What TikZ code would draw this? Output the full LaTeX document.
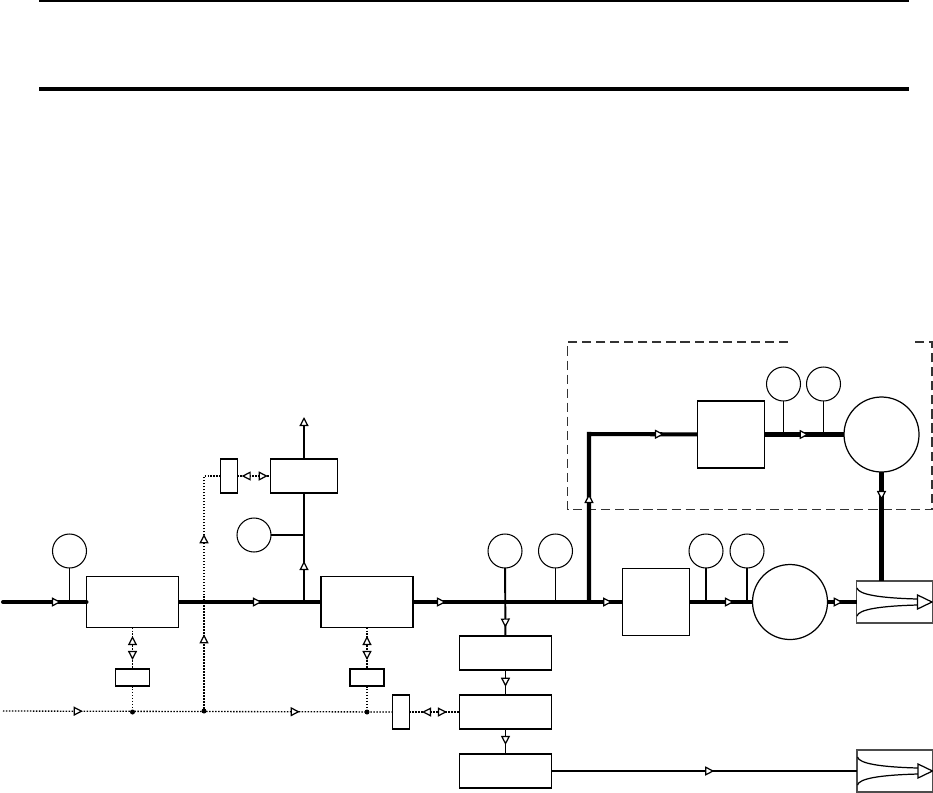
\documentclass[tikz,border=0pt]{standalone}
\usepackage{tikz}
\usetikzlibrary{positioning,arrows.meta,decorations.markings}
\tikzset{openTip/.tip={Triangle[open,fill=white,length=5.2pt,width=5.2pt,line width=0.7pt]}}

\begin{document}
\begin{tikzpicture}[
    node distance=0.5cm and 1cm,
    every node/.style={inner sep=0pt, outer sep=0pt},
    procNode/.style={rectangle, draw, fill=white, line width=0.8pt, minimum height=1.02cm, minimum width=1.84cm},
    stageNode/.style={rectangle, draw, fill=white, line width=0.8pt, minimum height=0.68cm, minimum width=1.84cm},
    squareNode/.style={rectangle, draw, fill=white, line width=0.7pt, minimum size=1.34cm},
    tagNode/.style={rectangle, draw, fill=white, line width=0.8pt, minimum height=0.34cm, minimum width=0.68cm},
    postNode/.style={rectangle, draw, fill=white, line width=0.7pt, minimum height=0.68cm, minimum width=0.34cm},
    gaugeNode/.style={circle, draw, fill=white, line width=0.6pt, minimum size=0.68cm},
    bigNode/.style={circle, draw, fill=white, line width=0.7pt, minimum size=1.5cm},
    outNode/.style={rectangle, draw=black!70, fill=white, line width=0.8pt, minimum height=0.84cm, minimum width=1.52cm},
    dotNode/.style={circle, fill=black, minimum size=0.1cm},
    mainEdge/.style={draw, line width=2.3pt},
    midEdge/.style={draw, line width=1.1pt},
    thinEdge/.style={draw, line width=0.6pt},
    signalEdge/.style={draw, line width=0.75pt, dash pattern=on 0.85pt off 0.85pt},
    tipAt/.style={postaction={decorate, decoration={markings, mark=at position #1 with {\arrow{openTip}}}}},
    backAt/.style={postaction={decorate, decoration={markings, mark=at position #1 with {\arrowreversed{openTip}}}}}
]
    \useasboundingbox (0,0) rectangle (18.66,-15.84);

    % heading rules
    \coordinate (ruleA) at (0.78,-0.02);
    \coordinate (ruleB) at (18.17,-0.02);
    \coordinate (ruleC) at (0.78,-1.78);
    \coordinate (ruleD) at (18.17,-1.78);
    \draw [line width=1.1pt] (ruleA) -- (ruleB);
    \draw [line width=2.3pt] (ruleC) -- (ruleD);

    % enclosure
    \draw [black!80, line width=0.85pt, dash pattern=on 5.2pt off 2.8pt] (15.76,-6.84) -- (11.35,-6.84) -- (11.35,-10.19) -- (18.64,-10.19) -- (18.64,-6.84) -- (18.26,-6.84);

    % main train
    \node [procNode] (boxA) at (2.65,-12.04) {};
    \node [procNode, right=2.85cm of boxA] (boxB) {};
    \node [squareNode, right=4.19cm of boxB] (boxC) {};
    \node [bigNode, right=1.26cm of boxC] (bigA) {};
    \node [outNode, right=0.58cm of bigA] (outA) {};

    % upper train
    \node [squareNode, above right=2.01cm and 0.16cm of boxC] (boxD) {};
    \node [bigNode, right=1.59cm of boxD] (bigB) {};

    % lower stack
    \node [stageNode, below right=0.17cm and 0.93cm of boxB] (stageA) {};
    \node [stageNode, below=of stageA] (stageB) {};
    \node [stageNode, below=of stageB] (stageC) {};
    \node [outNode, right=6.11cm of stageC] (outB) {};

    % branch and tags
    \node [stageNode, minimum width=1.34cm] (topBox) at (6.08,-9.52) {};
    \node [postNode, left=0.66cm of topBox] (postA) {};
    \node [tagNode, below=0.83cm of boxA] (tagA) {};
    \node [tagNode, below=0.83cm of boxB] (tagB) {};
    \node [postNode, left=1cm of stageB] (postB) {};

    % gauges
    \node [gaugeNode] (gaugeA) at (1.39,-11.02) {};
    \node [gaugeNode] (gaugeB) at (5.08,-10.70) {};
    \node [gaugeNode] (gaugeC) at (10.10,-11.02) {};
    \node [gaugeNode] (gaugeD) at (11.11,-11.02) {};
    \node [gaugeNode] (gaugeE) at (14.12,-11.02) {};
    \node [gaugeNode] (gaugeF) at (14.94,-11.02) {};
    \node [gaugeNode] (gaugeG) at (15.67,-7.68) {};
    \node [gaugeNode] (gaugeH) at (16.47,-7.68) {};

    % signal line
    \coordinate (mainIn) at (0.06,-12.04);
    \coordinate (signalIn) at (0.06,-14.22);
    \coordinate (topOut) at (6.08,-8.34);
    \coordinate (teeA) at (6.08,-12.04);
    \coordinate (teeB) at (11.78,-12.04);
    \coordinate (riseTop) at (11.78,-8.68);
    \coordinate (signalTop) at (4.08,-9.52);
    \node [dotNode] (dotA) at (tagA |- postB) {};
    \node [dotNode] (dotB) at (4.08,-14.22) {};
    \node [dotNode] (dotC) at (tagB |- postB) {};

    \path [mainEdge, line cap=round, tipAt=0.695] (mainIn) -- (boxA);
    \path [mainEdge, tipAt=0.586] (boxA) -- (boxB);
    \path [mainEdge, tipAt=0.158, tipAt=0.951] (boxB) -- (boxC);
    \path [mainEdge, tipAt=0.707] (boxC) -- (bigA);
    \path [mainEdge, tipAt=0.53] (bigA) -- (outA);
    \path [mainEdge, tipAt=0.391, tipAt=0.879] (teeB) -- (riseTop) -- (boxD);
    \path [mainEdge, tipAt=0.557] (boxD) -- (bigB);
    \path [mainEdge, tipAt=0.258] (bigB) -- (bigB |- outA.north);

    \path [midEdge, tipAt=0.376] (teeA) -- (topBox);
    \path [midEdge, -{openTip}] (topBox) -- (topOut);
    \path [midEdge] (gaugeB) -- (gaugeB -| topBox);
    \path [midEdge] (gaugeA) -- (gaugeA |- boxA);
    \path [midEdge, tipAt=0.877] (gaugeC) -- (stageA);
    \path [midEdge, tipAt=0.67] (stageA) -- (stageB);
    \path [midEdge, tipAt=0.636] (stageB) -- (stageC);
    \path [midEdge, tipAt=0.533] (stageC) -- (outB);
    \path [midEdge] (gaugeF) -- (gaugeF |- boxC);
    \path [thinEdge] (gaugeD) -- (gaugeD |- boxB);
    \path [thinEdge] (gaugeE) -- (gaugeE |- boxC);
    \path [thinEdge] (gaugeG) -- (gaugeG |- boxD);
    \path [thinEdge] (gaugeH) -- (gaugeH |- boxD);

    \path [signalEdge, tipAt=0.205, tipAt=0.762] (signalIn) -- (postB);
    \path [signalEdge, tipAt=0.298, tipAt=0.70] (dotB) -- (signalTop) -- (postA);
    \path [signalEdge, backAt=0.205, tipAt=0.783] (boxA) -- (tagA);
    \path [signalEdge, backAt=0.205, tipAt=0.783] (boxB) -- (tagB);
    \path [signalEdge] (tagA) -- (dotA);
    \path [signalEdge] (tagB) -- (dotC);
    \path [signalEdge, backAt=0.124, tipAt=0.918] (postA) -- (topBox);
    \path [signalEdge, backAt=0.25, tipAt=0.75] (postB) -- (stageB);

    % outlet funnels
    \foreach \o in {outA,outB} {
        \begin{scope}[shift={(\o.center)}]
            \draw [line width=0.7pt] (-0.75,-0.28) .. controls (-0.72,-0.15) and (-0.3,-0.08) .. (0.46,-0.06);
            \draw [line width=0.7pt] (-0.75,0.28) .. controls (-0.72,0.15) and (-0.3,0.08) .. (0.46,0.06);
            \draw [line width=0.7pt, fill=white] (0.46,0.14) -- (0.75,0) -- (0.46,-0.14) -- cycle;
        \end{scope}
    }
\end{tikzpicture}
\end{document}
